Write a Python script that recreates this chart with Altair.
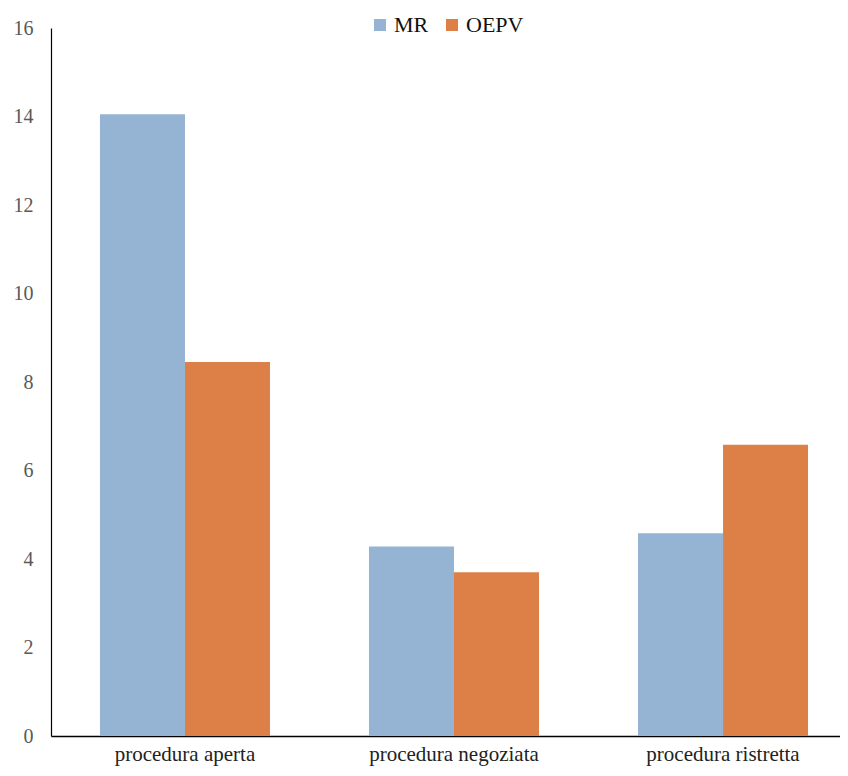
import altair as alt
import pandas as pd

categories = ["procedura aperta", "procedura negoziata", "procedura ristretta"]
series = ["MR", "OEPV"]
mr_values = [14.05, 4.28, 4.58]
oepv_values = [8.45, 3.70, 6.58]
colors = ["#95B3D2", "#DD8047"]

rows = []
for i, c in enumerate(categories):
    rows.append({"categoria": c, "serie": "MR", "valore": mr_values[i]})
    rows.append({"categoria": c, "serie": "OEPV", "valore": oepv_values[i]})
df = pd.DataFrame(rows)

font = "Liberation Serif"

chart = alt.Chart(df).mark_bar().encode(
    x=alt.X("categoria:N", sort=categories, title=None,
            scale=alt.Scale(paddingInner=0.368, paddingOuter=0.182, range=[0, 806]),
            axis=alt.Axis(labelAngle=0, ticks=False, domainColor="#000000",
                          domainWidth=1.5, labelFont=font, labelFontSize=21,
                          labelColor="#222222", labelPadding=7)),
    xOffset=alt.XOffset("serie:N", sort=series),
    y=alt.Y("valore:Q", title=None,
            scale=alt.Scale(domain=[0, 16], nice=False),
            axis=alt.Axis(values=list(range(0, 17, 2)), grid=False, ticks=False,
                          domainColor="#000000", domainWidth=1.2,
                          labelFont=font, labelFontSize=20, labelColor="#595959",
                          labelPadding=18)),
    color=alt.Color("serie:N", sort=series,
                    scale=alt.Scale(domain=series, range=colors),
                    legend=alt.Legend(title=None, orient="none", direction="horizontal",
                                      legendX=318, legendY=-14, symbolType="square",
                                      symbolSize=144, symbolStrokeWidth=0,
                                      labelFont=font, labelFontSize=22,
                                      labelColor="#111111", labelOffset=3,
                                      columnPadding=12)),
).properties(
    width=789,
    height=708,
    autosize=alt.AutoSizeParams(type="none"),
    padding={"left": 43, "top": 20, "right": 0, "bottom": 32},
).configure_view(stroke=None)

chart.save("out.html", embed_options={"renderer": "svg", "actions": False})
